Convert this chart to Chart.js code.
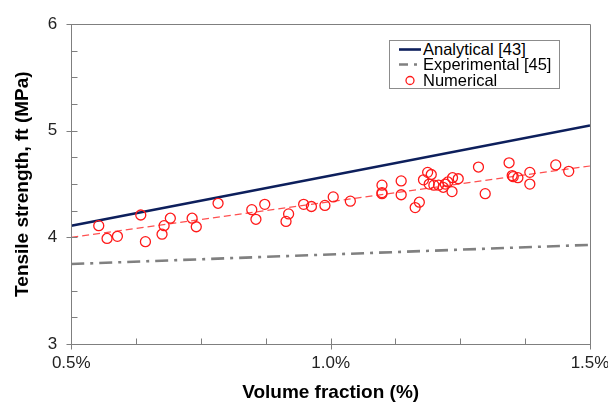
<!DOCTYPE html>
<html>
<head>
<meta charset="utf-8">
<script src="https://cdn.jsdelivr.net/npm/chart.js@4.4.1/dist/chart.umd.min.js"></script>
<style>
  html, body { margin: 0; padding: 0; background: #ffffff; }
  #wrap { position: relative; width: 608px; height: 403px; }
  canvas { display: block; }
  #legend {
    position: absolute; left: 389px; top: 40px; width: 171px; height: 49px;
    border: 1px solid #8c8c8c; background: #fff; box-sizing: border-box;
    font-family: "Liberation Sans", Arial, sans-serif; font-size: 16.5px; color: #000;
  }
  .row { position: absolute; left: 0; height: 16px; line-height: 16px; white-space: nowrap; }
  .row span.t { position: absolute; left: 33px; top: 0; }
  .row canvas { position: absolute; left: 8px; top: 0; }
</style>
</head>
<body>
<div id="wrap">
  <canvas id="c" width="608" height="403"></canvas>
  <div id="legend"></div>
</div>
<script>
// ---------- data ----------
const seriesNames = ["Analytical [43]", "Experimental [45]", "Numerical"];

const analyticalX = [0.5, 1.5];
const analyticalY = [4.11, 5.05];

const experimentalX = [0.5, 1.5];
const experimentalY = [3.75, 3.93];

const trendX = [0.5, 1.5];
const trendY = [4.00, 4.67];

const numericalX = [0.553, 0.569, 0.589, 0.634, 0.643, 0.675, 0.679, 0.691, 0.733, 0.741,
                    0.783, 0.848, 0.856, 0.873, 0.914, 0.919, 0.948, 0.963, 0.989, 1.005,
                    1.038, 1.099, 1.099, 1.099, 1.136, 1.136, 1.163, 1.171, 1.179, 1.187,
                    1.194, 1.190, 1.199, 1.208, 1.217, 1.221, 1.226, 1.235, 1.246, 1.234,
                    1.285, 1.298, 1.344, 1.350, 1.352, 1.361, 1.384, 1.384, 1.434, 1.459];
const numericalY = [4.11, 3.99, 4.01, 4.21, 3.96, 4.03, 4.11, 4.18, 4.18, 4.10,
                    4.32, 4.26, 4.17, 4.31, 4.15, 4.22, 4.31, 4.29, 4.30, 4.38,
                    4.34, 4.49, 4.42, 4.41, 4.53, 4.40, 4.28, 4.33, 4.54, 4.61,
                    4.59, 4.50, 4.49, 4.49, 4.47, 4.50, 4.52, 4.56, 4.55, 4.43,
                    4.66, 4.41, 4.70, 4.58, 4.57, 4.56, 4.61, 4.50, 4.68, 4.62];

const xMajorTicks = [0.5, 1.0, 1.5];
const xTickLabels = ["0.5%", "1.0%", "1.5%"];
const yMajorTicks = [3, 4, 5, 6];
const yTickLabels = ["3", "4", "5", "6"];

// ---------- styles ----------
const FONT = '"Liberation Sans", Arial, sans-serif';
const C_ANA = '#0d1f5c';
const C_EXP = '#808080';
const C_NUM = '#ff1a1a';
const C_TREND = '#ff5050';
const C_AXIS = '#7f7f7f';

const pts = (xs, ys) => xs.map((x, i) => ({ x: x, y: ys[i] }));

const framePlugin = {
  id: 'frameTicks',
  afterDraw(chart) {
    const { ctx, chartArea: a, scales } = chart;
    const xs = scales.x, ys = scales.y;
    const L = Math.round(a.left) + 0.5, R = Math.round(a.right) + 0.5;
    const T = Math.round(a.top) + 0.5, B = Math.round(a.bottom) + 0.5;
    ctx.save();
    ctx.strokeStyle = C_AXIS;
    ctx.lineWidth = 1;
    ctx.beginPath();
    ctx.moveTo(L, T); ctx.lineTo(R, T); ctx.lineTo(R, B); ctx.lineTo(L, B); ctx.closePath();
    for (let i = 0; i < xs.ticks.length; i++) {
      const v = xs.ticks[i].value;
      const p = Math.round(xs.getPixelForValue(v)) + 0.5;
      const major = xMajorTicks.some(m => Math.abs(m - v) < 1e-6);
      ctx.moveTo(p, B - 6);
      ctx.lineTo(p, B + (major ? 5 : 0));
    }
    for (let i = 0; i < ys.ticks.length; i++) {
      const v = ys.ticks[i].value;
      const p = Math.round(ys.getPixelForValue(v)) + 0.5;
      const major = yMajorTicks.some(m => Math.abs(m - v) < 1e-6);
      ctx.moveTo(L + 6, p);
      ctx.lineTo(L - (major ? 5 : 0), p);
    }
    ctx.stroke();
    ctx.restore();
  }
};

new Chart(document.getElementById('c'), {
  type: 'scatter',
  data: {
    datasets: [
      { label: seriesNames[2], data: pts(numericalX, numericalY), showLine: false,
        pointStyle: 'circle', pointRadius: 5, pointHoverRadius: 5,
        borderColor: C_NUM, backgroundColor: 'rgba(0,0,0,0)', borderWidth: 1.3, order: 0 },
      { label: 'trend', data: pts(trendX, trendY), showLine: true, pointRadius: 0,
        borderColor: C_TREND, borderWidth: 1.2, borderDash: [7, 4], order: 1 },
      { label: seriesNames[0], data: pts(analyticalX, analyticalY), showLine: true, pointRadius: 0,
        borderColor: C_ANA, borderWidth: 2.6, order: 2 },
      { label: seriesNames[1], data: pts(experimentalX, experimentalY), showLine: true, pointRadius: 0,
        borderColor: C_EXP, borderWidth: 2.6, borderDash: [13, 6, 3, 6], order: 3 }
    ]
  },
  options: {
    responsive: false,
    animation: false,
    events: [],
    layout: { padding: { left: 9, right: 0, top: 21, bottom: 1 } },
    plugins: { legend: { display: false }, tooltip: { enabled: false } },
    scales: {
      x: {
        type: 'linear', min: 0.5, max: 1.5,
        afterBuildTicks(s) {
          const t = [];
          for (let i = 0; i <= 8; i++) t.push({ value: 0.5 + i * 0.125 });
          s.ticks = t;
        },
        afterFit(s) { s.paddingRight = 18; s.paddingLeft = 0; },
        ticks: {
          autoSkip: false, maxRotation: 0, padding: 11, color: '#222',
          font: { family: FONT, size: 17, lineHeight: 1 },
          callback(v) {
            const i = xMajorTicks.findIndex(m => Math.abs(m - v) < 1e-6);
            return i >= 0 ? xTickLabels[i] : '';
          }
        },
        grid: { display: false, drawTicks: false },
        border: { display: false },
        title: { display: true, text: 'Volume fraction (%)', color: '#000',
                 font: { family: FONT, size: 19, weight: 'bold', lineHeight: 1 }, padding: { top: 0, bottom: 0 } }
      },
      y: {
        type: 'linear', min: 3, max: 6,
        afterBuildTicks(s) {
          const t = [];
          for (let i = 0; i <= 12; i++) t.push({ value: 3 + i * 0.25 });
          s.ticks = t;
        },
        ticks: {
          autoSkip: false, padding: 14, color: '#222',
          font: { family: FONT, size: 17 },
          callback(v) {
            const i = yMajorTicks.findIndex(m => Math.abs(m - v) < 1e-6);
            return i >= 0 ? yTickLabels[i] : '';
          }
        },
        grid: { display: false, drawTicks: false },
        border: { display: false },
        title: { display: true, text: 'Tensile strength, ft (MPa)', color: '#000',
                 font: { family: FONT, size: 19, weight: 'bold' }, padding: { top: 2, bottom: 0 } }
      }
    }
  },
  plugins: [framePlugin]
});

// ---------- legend (HTML text) ----------
const legend = document.getElementById('legend');
const rowTops = [0, 15, 31];
const kinds = ['ana', 'exp', 'num'];
seriesNames.forEach((name, i) => {
  const row = document.createElement('div');
  row.className = 'row';
  row.style.top = rowTops[i] + 'px';
  const sw = document.createElement('canvas');
  sw.width = 24; sw.height = 16;
  const g = sw.getContext('2d');
  if (kinds[i] === 'ana') {
    g.strokeStyle = C_ANA; g.lineWidth = 2.6;
    g.beginPath(); g.moveTo(1, 8.5); g.lineTo(23, 8.5); g.stroke();
  } else if (kinds[i] === 'exp') {
    g.strokeStyle = C_EXP; g.lineWidth = 2.6; g.setLineDash([9, 6, 3, 6]);
    g.beginPath(); g.moveTo(1, 8.5); g.lineTo(23, 8.5); g.stroke();
  } else {
    g.strokeStyle = C_NUM; g.lineWidth = 1.3;
    g.beginPath(); g.arc(12, 8.5, 4, 0, Math.PI * 2); g.stroke();
  }
  row.appendChild(sw);
  const t = document.createElement('span');
  t.className = 't';
  t.textContent = name;
  row.appendChild(t);
  legend.appendChild(row);
});
</script>
</body>
</html>
